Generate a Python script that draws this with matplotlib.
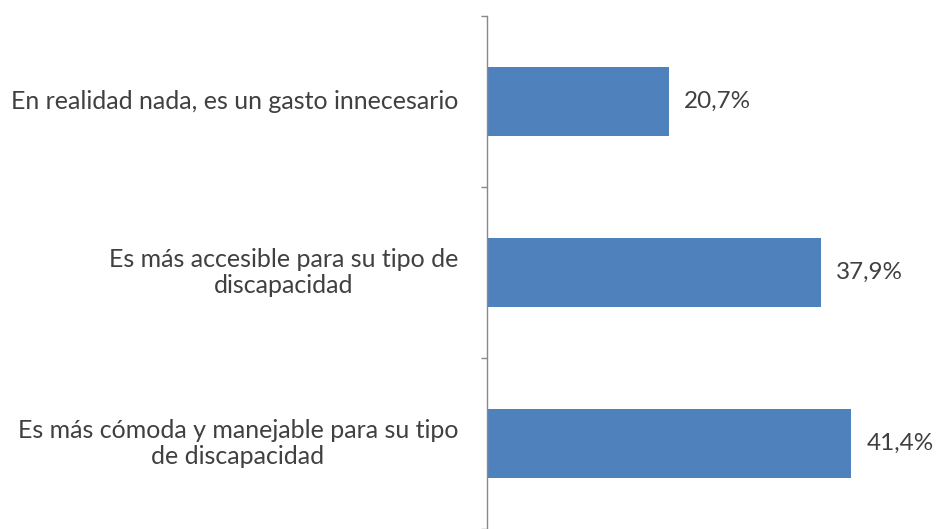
import matplotlib
matplotlib.use("Agg")
import matplotlib.pyplot as plt

# data
categories = [
    "En realidad nada, es un gasto innecesario",
    "Es más accesible para su tipo de\ndiscapacidad",
    "Es más cómoda y manejable para su tipo\nde discapacidad",
]
values = [20.7, 37.9, 41.4]

bar_color = "#4F81BD"
text_color = "#404040"
axis_color = "#898989"

plt.rcParams["font.family"] = ["Lato", "DejaVu Sans"]

fig = plt.figure(figsize=(9.37, 5.29), dpi=100)
ax = fig.add_axes([487 / 937, 0, 440 / 937, (529 - 16) / 529])

pos = list(range(len(categories)))
ax.barh(pos, values, height=0.4, color=bar_color)

ax.set_xlim(0, 50)
ax.set_ylim(2.44, -0.5)

# category labels as text, centred multi-line
for p, c in zip(pos, categories):
    ax.text(-29 / 8.8, p, c, ha="right", va="center", multialignment="center",
            fontsize=18, color=text_color, linespacing=1.15)

# value labels
for p, v in zip(pos, values):
    ax.text(v + 15 / 8.8, p, f"{v:.1f}%".replace(".", ","), ha="left", va="center",
            fontsize=17.5, color=text_color)

ax.set_yticks([-0.5, 0.5, 1.5, 2.5])
ax.set_yticklabels([])
ax.tick_params(axis="y", direction="out", length=4, color=axis_color, width=1)
ax.set_xticks([])
for s in ["top", "right", "bottom"]:
    ax.spines[s].set_visible(False)
ax.spines["left"].set_color(axis_color)
ax.spines["left"].set_linewidth(1)

fig.savefig("out.png", dpi=100)
